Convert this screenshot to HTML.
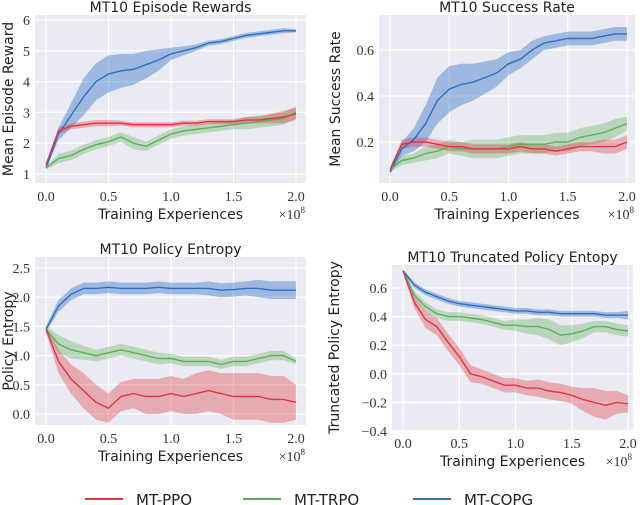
<!DOCTYPE html>
<html><head><meta charset="utf-8"><style>
body{margin:0;background:#fff;width:640px;height:505px;overflow:hidden}
svg{display:block}
.tick{font-family:"Liberation Serif",serif;font-size:14px;fill:#333}
.lab{font-family:"DejaVu Sans","Liberation Sans",sans-serif;font-size:14px;fill:#222}
.ttl{font-family:"DejaVu Sans","Liberation Sans",sans-serif;font-size:14px;fill:#222}
.leg{font-family:"DejaVu Sans","Liberation Sans",sans-serif;font-size:15px;fill:#222}
</style></head><body>
<svg id="c" width="640" height="505"></svg>
<script>
const xs=[0,0.1,0.2,0.3,0.4,0.5,0.6,0.7,0.8,0.9,1.0,1.1,1.2,1.3,1.4,1.5,1.6,1.7,1.8,1.9,2.0];
const xTickLabels=["0.0","0.5","1.0","1.5","2.0"];
const xTickValues=[0,0.5,1,1.5,2];
// rewards
const rewBlue=[1.2,2.3,2.9,3.5,4.0,4.25,4.35,4.4,4.55,4.7,4.9,5.0,5.1,5.25,5.3,5.4,5.5,5.55,5.6,5.65,5.65];
const rewBlueBand=[0.05,0.2,0.4,0.6,0.6,0.6,0.55,0.5,0.45,0.35,0.2,0.15,0.1,0.08,0.08,0.08,0.08,0.08,0.08,0.08,0.05];
const rewRed=[1.3,2.4,2.55,2.6,2.65,2.65,2.65,2.6,2.6,2.6,2.6,2.65,2.65,2.7,2.7,2.7,2.75,2.75,2.8,2.85,2.95];
const rewRedBand=[0.05,0.1,0.1,0.1,0.1,0.1,0.08,0.08,0.08,0.08,0.08,0.08,0.08,0.08,0.08,0.08,0.1,0.1,0.15,0.2,0.2];
const rewGreen=[1.2,1.5,1.6,1.8,1.95,2.05,2.2,2.0,1.9,2.1,2.3,2.4,2.45,2.5,2.55,2.6,2.65,2.7,2.75,2.8,3.0];
const rewGreenBand=[0.05,0.15,0.15,0.15,0.15,0.15,0.15,0.2,0.15,0.15,0.15,0.15,0.15,0.15,0.15,0.15,0.2,0.2,0.2,0.2,0.2];
const rewTicks=[1,2,3,4,5,6];
// success
const sucBlue=[0.07,0.17,0.21,0.28,0.38,0.43,0.45,0.46,0.48,0.5,0.54,0.56,0.6,0.63,0.64,0.65,0.65,0.65,0.66,0.67,0.67];
const sucBlueBand=[0.01,0.03,0.05,0.08,0.1,0.1,0.09,0.08,0.07,0.06,0.05,0.04,0.04,0.03,0.03,0.03,0.03,0.03,0.03,0.03,0.03];
const sucRed=[0.08,0.19,0.2,0.2,0.19,0.18,0.18,0.17,0.17,0.17,0.17,0.18,0.17,0.17,0.16,0.17,0.18,0.18,0.18,0.18,0.2];
const sucRedBand=[0.01,0.02,0.02,0.02,0.02,0.02,0.02,0.02,0.02,0.02,0.02,0.02,0.02,0.02,0.02,0.02,0.02,0.02,0.03,0.03,0.03];
const sucGreen=[0.08,0.12,0.13,0.15,0.16,0.18,0.17,0.17,0.17,0.17,0.18,0.19,0.19,0.19,0.2,0.2,0.22,0.23,0.24,0.26,0.28];
const sucGreenBand=[0.01,0.02,0.02,0.03,0.03,0.03,0.03,0.04,0.04,0.04,0.04,0.04,0.04,0.04,0.04,0.04,0.04,0.04,0.04,0.04,0.03];
const sucTicks=[0.2,0.4,0.6];
// policy entropy
const entBlue=[1.45,1.85,2.05,2.15,2.15,2.17,2.15,2.15,2.15,2.17,2.15,2.15,2.15,2.15,2.12,2.13,2.15,2.15,2.12,2.12,2.12];
const entBlueBand=[0.05,0.1,0.1,0.1,0.1,0.1,0.1,0.1,0.1,0.1,0.1,0.1,0.1,0.12,0.12,0.12,0.12,0.15,0.15,0.15,0.15];
const entGreen=[1.45,1.2,1.1,1.05,1.0,1.05,1.1,1.05,1.0,0.95,0.95,0.9,0.9,0.9,0.85,0.9,0.9,0.95,1.0,1.0,0.9];
const entGreenBand=[0.05,0.15,0.15,0.12,0.1,0.1,0.1,0.1,0.1,0.1,0.08,0.08,0.08,0.08,0.08,0.08,0.08,0.08,0.08,0.08,0.05];
const entRed=[1.45,0.9,0.6,0.4,0.2,0.1,0.3,0.35,0.3,0.3,0.35,0.3,0.35,0.4,0.35,0.3,0.3,0.3,0.25,0.25,0.2];
const entRedBand=[0.05,0.2,0.25,0.3,0.3,0.25,0.25,0.25,0.3,0.3,0.3,0.3,0.35,0.35,0.35,0.4,0.4,0.4,0.4,0.4,0.3];
const entTicks=[0,0.5,1,1.5,2,2.5];
// truncated entropy
const trBlue=[0.72,0.62,0.57,0.54,0.51,0.49,0.48,0.47,0.46,0.45,0.44,0.44,0.43,0.43,0.42,0.42,0.42,0.42,0.41,0.41,0.41];
const trBlueBand=[0.01,0.02,0.02,0.02,0.02,0.02,0.02,0.02,0.02,0.02,0.02,0.02,0.02,0.02,0.02,0.02,0.02,0.02,0.02,0.02,0.03];
const trGreen=[0.72,0.55,0.47,0.42,0.40,0.40,0.39,0.38,0.36,0.34,0.34,0.33,0.33,0.31,0.27,0.28,0.30,0.33,0.33,0.31,0.30];
const trGreenBand=[0.01,0.03,0.03,0.03,0.03,0.03,0.03,0.03,0.03,0.03,0.04,0.05,0.06,0.07,0.07,0.06,0.05,0.04,0.04,0.04,0.04];
const trRed=[0.72,0.5,0.38,0.33,0.22,0.12,0.0,-0.02,-0.05,-0.08,-0.08,-0.1,-0.1,-0.12,-0.13,-0.15,-0.18,-0.2,-0.22,-0.2,-0.21];
const trRedBand=[0.01,0.04,0.06,0.06,0.06,0.06,0.06,0.05,0.05,0.05,0.05,0.05,0.06,0.06,0.06,0.06,0.08,0.1,0.1,0.08,0.06];
const trTicks=[-0.4,-0.2,0,0.2,0.4,0.6];

const svg=document.getElementById('c');
const NS='http://www.w3.org/2000/svg';
function mk(tag,attrs,parent,text){const e=document.createElementNS(NS,tag);for(const k in attrs)e.setAttribute(k,attrs[k]);if(text!==undefined)e.textContent=text;(parent||svg).appendChild(e);return e;}
const COL={red:'#e0343f',green:'#5fae5a',blue:'#2e6fc4'};
const BAND={red:'rgba(224,52,63,0.35)',green:'rgba(95,174,90,0.35)',blue:'rgba(46,111,196,0.4)'};

function panel(o){
  const g=mk('g',{});
  
  
  const bg=mk('rect',{x:o.L,y:o.T,width:o.R-o.L,height:o.B-o.T,fill:'#eaeaf2'},g);
  
  
  const X=v=>o.x0+(o.x1-o.x0)*v/2;
  const Y=v=>o.yA+(v-o.vA)*(o.yB-o.yA)/(o.vB-o.vA);
  xTickValues.forEach((v,i)=>{
    const l=mk('line',{x1:X(v),x2:X(v),y1:o.T,y2:o.B,stroke:'#fff','stroke-width':1.2},g);
    
    
    const t=mk('text',{x:X(v),y:o.B+18,'text-anchor':'middle',class:'tick'},g,xTickLabels[i]);
    
    
  });
  o.yt.forEach(v=>{
    const l=mk('line',{x1:o.L,x2:o.R,y1:Y(v),y2:Y(v),stroke:'#fff','stroke-width':1.2},g);
    
    
    const lab=(v<0?'\u2212':'')+Math.abs(v).toFixed(o.dec);
    const t=mk('text',{x:o.L-5,y:Y(v)+5,'text-anchor':'end',class:'tick'},g,lab);
    
    
  });
  o.series.forEach(s=>{
    let up='',dn='';
    xs.forEach((x,i)=>{up+=(i?'L':'M')+X(x).toFixed(1)+','+Y(s.m[i]+s.b[i]).toFixed(1);});
    for(let i=xs.length-1;i>=0;i--)dn+='L'+X(xs[i]).toFixed(1)+','+Y(s.m[i]-s.b[i]).toFixed(1);
    const band=mk('path',{d:up+dn+'Z',fill:BAND[s.c]},g);
    
    
  });
  o.series.forEach(s=>{
    const d=xs.map((x,i)=>(i?'L':'M')+X(x).toFixed(1)+','+Y(s.m[i]).toFixed(1)).join('');
    const p=mk('path',{d:d,fill:'none',stroke:COL[s.c],'stroke-width':1.4},g);
    
    
  });
  const tt=mk('text',{x:(o.L+o.R)/2,y:o.T-3,'text-anchor':'middle',class:'ttl'},g,o.title);
  
  
  const xl=mk('text',{x:(o.L+o.R)/2,y:o.B+36,'text-anchor':'middle',class:'lab'},g,'Training Experiences');
  
  
  const ex=mk('text',{x:o.R-1,y:o.B+36,'text-anchor':'end',class:'tick'},g,'\u00d710');
  
  
  mk('tspan',{dy:-6,'font-size':9},ex,'8');
  const yl=mk('text',{transform:`translate(${o.yLabX},${(o.T+o.B)/2}) rotate(-90)`,'text-anchor':'middle',class:'lab'},g,o.ylabel);
  
  
}
panel({name:'rewards-panel',title:'MT10 Episode Rewards',ylabel:'Mean Episode Reward',L:35,R:306,T:15,B:183,x0:46,x1:296,yA:174,vA:1,yB:20,vB:6,yt:rewTicks,dec:0,yLabX:13,
 series:[{c:'blue',m:rewBlue,b:rewBlueBand},{c:'green',m:rewGreen,b:rewGreenBand},{c:'red',m:rewRed,b:rewRedBand}]});
panel({name:'success-panel',title:'MT10 Success Rate',ylabel:'Mean Success Rate',L:379,R:635,T:15,B:183,x0:390,x1:627,yA:142,vA:0.2,yB:50,vB:0.6,yt:sucTicks,dec:1,yLabX:340,
 series:[{c:'blue',m:sucBlue,b:sucBlueBand},{c:'green',m:sucGreen,b:sucGreenBand},{c:'red',m:sucRed,b:sucRedBand}]});
panel({name:'entropy-panel',title:'MT10 Policy Entropy',ylabel:'Policy Entropy',L:35,R:306,T:257,B:425,x0:46,x1:296,yA:414,vA:0,yB:268,vB:2.5,yt:entTicks,dec:1,yLabX:13,
 series:[{c:'blue',m:entBlue,b:entBlueBand},{c:'green',m:entGreen,b:entGreenBand},{c:'red',m:entRed,b:entRedBand}]});
panel({name:'truncated-entropy-panel',title:'MT10 Truncated Policy Entopy',ylabel:'Truncated Policy Entropy',L:392,R:633,T:265,B:430,x0:403,x1:628,yA:288,vA:0.6,yB:431,vB:-0.4,yt:trTicks,dec:1,yLabX:339,
 series:[{c:'blue',m:trBlue,b:trBlueBand},{c:'green',m:trGreen,b:trGreenBand},{c:'red',m:trRed,b:trRedBand}]});
// legend
const leg=mk('g',{});


[['red','MT-PPO',85],['green','MT-TRPO',243],['blue','MT-COPG',413]].forEach(([c,n,x])=>{
  const l=mk('line',{x1:x,x2:x+38,y1:499,y2:499,stroke:COL[c],'stroke-width':2},leg);
  
  
  const t=mk('text',{x:x+51,y:505,class:'leg'},leg,n);
  
  
});
</script>
</body></html>
